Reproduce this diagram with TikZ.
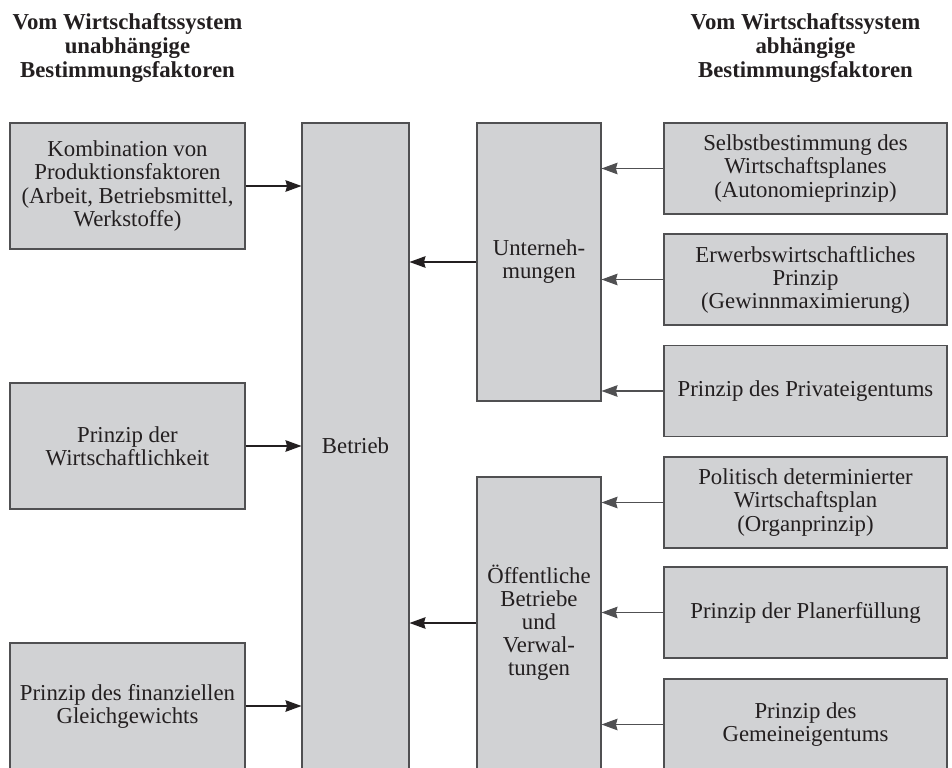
\documentclass[tikz,border=0pt]{standalone}
\usepackage{fontspec}
\setmainfont{Liberation Serif}
\usepackage{tikz}
\usetikzlibrary{arrows.meta}
\usepackage{xcolor}
\definecolor{boxgray}{RGB}{209,210,212}
\definecolor{ink}{RGB}{35,31,32}
\definecolor{rahmen}{RGB}{80,80,82}
\tikzset{>={Stealth[length=4mm,width=2.9mm,inset=0.4mm]}}
\newcommand{\px}{0.025cm}
\tikzstyle{kasten}=[draw=rahmen,line width=0.75pt,fill=boxgray,align=center,text=ink,inner sep=0,font=\fontsize{16.2}{16.4}\selectfont]
\tikzstyle{titel}=[align=center,text=ink,font=\fontsize{16.2}{17}\selectfont\bfseries]
\tikzstyle{pfeil}=[->,line width=0.8pt]

\begin{document}
\begin{tikzpicture}[x=\px,y=-\px]
 \useasboundingbox (0,0) rectangle (952,768);
 \clip (0,0) rectangle (952,768);
 % headings
 \node[titel] (TL) at (127.5,48) {Vom Wirtschaftssystem\\unabhängige\\Bestimmungsfaktoren};
 \node[titel] (TR) at (805.5,48) {Vom Wirtschaftssystem\\abhängige\\Bestimmungsfaktoren};
 %
 \node[kasten,minimum width=235*\px,minimum height=126*\px] (L1) at (127.5,186)
  {Kombination von\\Produktionsfaktoren\\(Arbeit, Betriebsmittel,\\Werkstoffe)};
 \node[kasten,minimum width=235*\px,minimum height=126*\px] (L2) at (127.5,446)
  {Prinzip der\\Wirtschaftlichkeit};
 \node[kasten,minimum width=235*\px,minimum height=126*\px] (L3) at (127.5,706)
  {Prinzip des finanziellen\\Gleichgewichts};
 %
 \node[kasten,minimum width=107*\px,minimum height=646*\px] (B) at (355.5,446) {Betrieb};
 %
 \node[kasten,minimum width=124*\px,minimum height=278*\px] (U) at (539,262) {Unterneh-\\mungen};
 \node[kasten,minimum width=124*\px,minimum height=292*\px] (O) at (539,623)
  {Öffentliche\\Betriebe\\und\\Verwal-\\tungen};
 %
 \foreach \n/\y/\t in {1/168.5/{Selbstbestimmung des\\Wirtschaftsplanes\\(Autonomieprinzip)},
  2/279.5/{Erwerbswirtschaftliches\\Prinzip\\(Gewinnmaximierung)},
  3/391/{Prinzip des Privateigentums},
  4/502.5/{Politisch determinierter\\Wirtschaftsplan\\(Organprinzip)},
  5/612.5/{Prinzip der Planerfüllung},
  6/724.5/{Prinzip des\\Gemeineigentums}}
 {\node[kasten,minimum width=283*\px,minimum height=91*\px] (R\n) at (805.5,\y) {\t};}
 %
 \foreach \n in {1,2,3}
 {\draw[pfeil,ink] (L\n.east) -- (L\n.east -| B.west);
  \draw[pfeil,rahmen] (R\n.west) -- (R\n.west -| U.east);}
 \foreach \n in {4,5,6}
 {\draw[pfeil,rahmen] (R\n.west) -- (R\n.west -| O.east);}
 \draw[pfeil,ink] (U.west) -- (U.west -| B.east);
 \draw[pfeil,ink] (O.west) -- (O.west -| B.east);
\end{tikzpicture}
\end{document}
